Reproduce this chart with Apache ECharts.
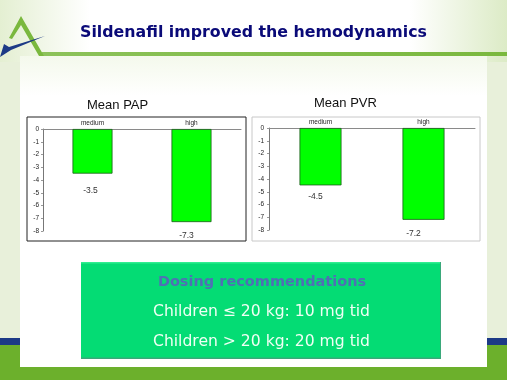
<!DOCTYPE html>
<html><head><meta charset="utf-8">
<style>html,body{margin:0;padding:0;background:#fff}#c{width:507px;height:380px;filter:blur(0.4px)}</style>
<script src="https://cdn.jsdelivr.net/npm/echarts@6/dist/echarts.min.js"></script>
</head><body><div id="c"></div>
<script>
const categories = ['medium', 'high'];
const papValues = [-3.5, -7.3];
const pvrValues = [-4.5, -7.2];
const papLabels = ['-3.5', '-7.3'];
const pvrLabels = ['-4.5', '-7.2'];
const titleText = 'Sildenafil improved the hemodynamics';
const chartTitles = ['Mean PAP', 'Mean PVR'];
const boxLines = ['Dosing recommendations', 'Children \u2264 20 kg: 10 mg tid', 'Children > 20 kg: 20 mg tid'];

const chart = echarts.init(document.getElementById('c'));
const grad = (x, y, x2, y2, a, b) => new echarts.graphic.LinearGradient(x, y, x2, y2, [{offset: 0, color: a}, {offset: 1, color: b}]);
const rect = (x, y, w, h, fill, extra) => Object.assign({type: 'rect', shape: {x, y, width: w, height: h}, style: {fill}}, extra || {});
const label = (text, x, y, font, fill) => ({type: 'text', x, y, z: 10, style: {text, font, fill, textAlign: 'center', textVerticalAlign: 'middle'}});

const xAxis = (i) => ({
  type: 'category', gridIndex: i, data: categories, position: 'top',
  axisLine: {onZero: false, lineStyle: {color: '#8a8a8a', width: 1}},
  axisTick: {show: false},
  axisLabel: {fontSize: 6.5, color: '#222', margin: 2, fontFamily: 'Liberation Sans'}
});
const yAxis = (i, m) => ({
  type: 'value', gridIndex: i, min: -8, max: 0, interval: 1,
  axisLine: {show: true, lineStyle: {color: '#777', width: 1}},
  axisTick: {show: true, length: 2, lineStyle: {color: '#999'}},
  splitLine: {show: false},
  axisLabel: {fontSize: 6.5, color: '#222', margin: m, fontFamily: 'Liberation Sans'}
});
const bar = (i, vals, labs, width, place) => ({
  type: 'bar', xAxisIndex: i, yAxisIndex: i, barWidth: width, z: 5,
  data: vals.map((v, k) => ({value: v, label: {distance: place[k][0], offset: [place[k][1], 0]}})),
  itemStyle: {color: '#00ff00', borderColor: '#1a5a1a', borderWidth: 0.8},
  label: {show: true, position: 'bottom', fontSize: 8.5, color: '#333',
    fontFamily: 'Liberation Sans', formatter: (p) => labs[p.dataIndex]}
});

chart.setOption({
  animation: false,
  backgroundColor: '#e8f0da',
  title: [
    {text: chartTitles[0], left: 82, top: 94,
     textStyle: {fontSize: 13, fontWeight: 'normal', color: '#111', fontFamily: 'Liberation Sans'}},
    {text: chartTitles[1], left: 309, top: 92,
     textStyle: {fontSize: 13, fontWeight: 'normal', color: '#111', fontFamily: 'Liberation Sans'}}
  ],
  grid: [
    {left: 43, top: 129, width: 198, height: 102},
    {left: 269, top: 128, width: 206, height: 102}
  ],
  xAxis: [xAxis(0), xAxis(1)],
  yAxis: [yAxis(0, 4), yAxis(1, 5)],
  series: [
    bar(0, papValues, papLabels, 40, [[12.5, -2], [9, -5]]),
    bar(1, pvrValues, pvrLabels, 42, [[7, -5], [9, -10]])
  ],
  graphic: {elements: [
    rect(0, 0, 90, 62, grad(0, 0, 1, 0, '#e4efd2', '#ffffff')),
    rect(90, 0, 320, 62, '#ffffff'),
    rect(410, 0, 97, 62, grad(0, 0, 1, 0, '#ffffff', '#dcebc6')),
    rect(20, 56, 467, 40, grad(0, 0, 0, 1, '#f4f9ec', '#ffffff')),
    rect(20, 96, 467, 271, '#ffffff'),
    rect(0, 338, 20, 7, '#1c3a86'),
    rect(487, 338, 20, 7, '#1c3a86'),
    rect(0, 345, 20, 35, '#6cb02c'),
    rect(487, 345, 20, 35, '#6cb02c'),
    rect(20, 367, 467, 13, '#6cb02c'),
    rect(42, 52, 465, 4, grad(0, 0, 1, 0, '#8cc25a', '#7ab83e')),
    {type: 'polygon', shape: {points: [[21, 16], [44, 56], [39, 56], [21, 25], [12, 39], [9, 38]]}, style: {fill: '#7ab83e'}},
    {type: 'polygon', shape: {points: [[0, 57], [4, 44], [9, 47], [45, 36], [11, 50]]}, style: {fill: '#1c3a86'}},
    label(titleText, 253.5, 33, 'bold 15.8px "DejaVu Sans"', '#0a0a78'),
    rect(27, 117, 219, 124, '#ffffff', {style: {fill: '#fff', stroke: '#222', lineWidth: 1}}),
    rect(252, 117, 228, 124, '#ffffff', {style: {fill: '#fff', stroke: '#c8c8c8', lineWidth: 1}}),
    rect(81, 262, 360, 97, '#04dc74'),
    rect(81, 262, 360, 1.5, '#30ee90'),
    rect(81, 357.5, 360, 1.5, '#3aa87a'),
    rect(440, 262, 1, 97, '#3aa87a'),
    label(boxLines[0], 262, 282, 'bold 14.5px "DejaVu Sans"', '#4f70b4'),
    label(boxLines[1], 261.5, 312, '15.6px "DejaVu Sans"', '#f0fff4'),
    label(boxLines[2], 261.5, 342, '15.6px "DejaVu Sans"', '#f0fff4')
  ]}
});
</script></body></html>
